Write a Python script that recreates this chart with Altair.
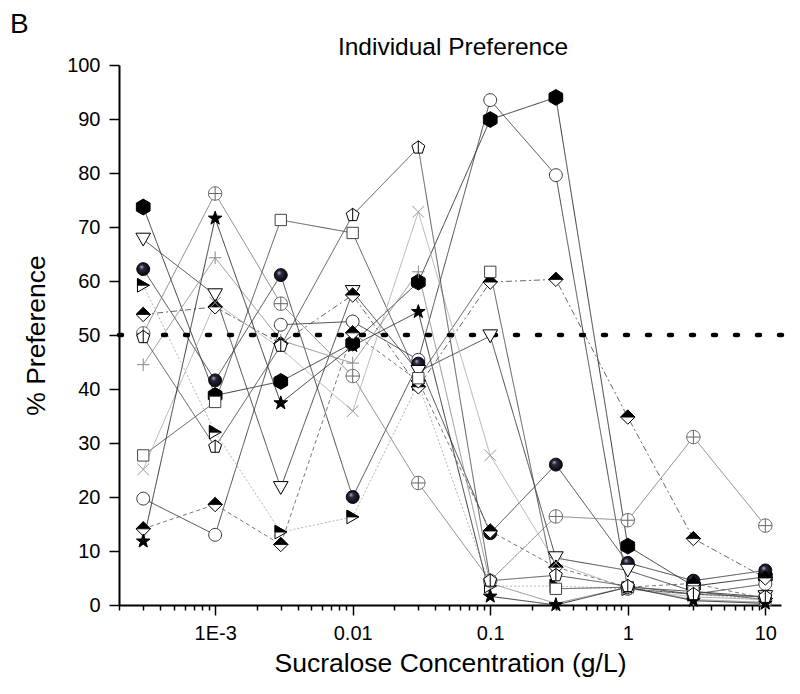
import altair as alt
import pandas as pd

# ---- data ----
conc = [0.0003, 0.001, 0.003, 0.01, 0.03, 0.1, 0.3, 1, 3, 10]

hexagon   = [73.7, 38.8, 41.4, 48.5, 59.8, 89.9, 94.0, 10.9, 3.5, 5.2]
circle    = [19.7, 13.0, 51.9, 52.5, 45.4, 93.5, 79.6, 3.0, 2.0, 3.9]
sphere    = [62.2, 41.6, 61.1, 20.0, 44.7, 13.3, 26.0, 7.8, 4.5, 6.4]
downtri   = [67.7, 57.4, 21.7, 58.0, 43.2, 49.8, 8.7, 6.4, 2.5, 1.5]
righttri  = [59.2, 32.0, 13.5, 16.3, 41.0, 3.5, 3.5, 3.0, 2.0, 1.0]
diamond_a = [53.8, 55.2, 48.4, 57.4, 40.4, 59.8, 60.3, 34.8, 12.3, 5.0]
diamond_b = [14.1, 18.6, 11.2, 50.4, 41.5, 13.7, 7.0, 3.3, 4.0, 1.2]
cplus     = [50.3, 76.2, 55.8, 42.4, 22.6, 4.5, 16.4, 15.7, 31.1, 14.7]
square    = [27.7, 37.6, 71.3, 68.9, 42.0, 61.7, 3.0, 3.3, 2.5, 1.0]
xcross    = [25.1, 56.0, 47.5, 35.9, 72.8, 27.7, 7.8, 3.0, 1.5, 1.0]
plus      = [44.5, 64.3, 49.0, 44.8, 61.7, 4.0, 0.3, 3.3, 1.0, 0.5]
star      = [11.8, 71.6, 37.4, 48.0, 54.3, 1.6, 0.0, 3.3, 0.8, 0.3]
pentagon  = [49.6, 29.3, 48.0, 72.2, 84.7, 4.5, 5.5, 3.5, 2.0, 1.5]

series_values = {
    "hexagon": hexagon, "circle": circle, "sphere": sphere, "downtri": downtri,
    "righttri": righttri, "diamond_a": diamond_a, "diamond_b": diamond_b,
    "cplus": cplus, "square": square, "xcross": xcross, "plus": plus,
    "star": star, "pentagon": pentagon,
}

x_major = [0.001, 0.01, 0.1, 1, 10]
x_major_labels = ["1E-3", "0.01", "0.1", "1", "10"]

# ---- styles ----
HEX = "M0,-1L0.866,-0.5L0.866,0.5L0,1L-0.866,0.5L-0.866,-0.5Z"
CIRC = "M-1,0A1,1 0 1,0 1,0A1,1 0 1,0 -1,0Z"
DTRI = "M-1,-0.85L1,-0.85L0,0.9Z"
RTRI = "M-0.85,-1L0.9,0L-0.85,1Z"
RTRI_TOP = "M-0.85,-1L0.9,0L-0.85,0Z"
DIAM = "M0,-1L1,0L0,1L-1,0Z"
DIAM_TOP = "M0,-1L1,0L-1,0Z"
CPLUS = CIRC + "M-1,0L1,0M0,-1L0,1"
SQ = "M-0.8,-0.8L0.8,-0.8L0.8,0.8L-0.8,0.8Z"
XS = "M-0.8,-0.8L0.8,0.8M-0.8,0.8L0.8,-0.8"
PLUS = "M-1,0L1,0M0,-1L0,1"
STAR = ("M0,-1L0.235,-0.324L0.951,-0.309L0.380,0.124L0.588,0.809L0,0.4"
        "L-0.588,0.809L-0.380,0.124L-0.951,-0.309L-0.235,-0.324Z")
PENT = "M0,-1L0.951,-0.309L0.588,0.809L-0.588,0.809L-0.951,-0.309Z M0,-1L0,0.809"

SPHERE_FILL = {
    "gradient": "radial", "x1": 0.35, "y1": 0.3, "r1": 0.0,
    "x2": 0.5, "y2": 0.5, "r2": 0.6,
    "stops": [{"offset": 0, "color": "#c0c0dc"},
              {"offset": 0.3, "color": "#2a2a40"},
              {"offset": 1, "color": "#000000"}],
}

# name: (shape, size, fill, stroke, overlay shape, line colour, line dash)
style = {
    "hexagon":   (HEX, 250, "#000000", "#000000", None, "#222222", [1, 0]),
    "circle":    (CIRC, 165, "#ffffff", "#333333", None, "#333333", [1, 0]),
    "sphere":    (CIRC, 165, SPHERE_FILL, "#000000", None, "#333333", [1, 0]),
    "downtri":   (DTRI, 215, "#ffffff", "#000000", None, "#333333", [1, 0]),
    "righttri":  (RTRI, 185, "#ffffff", "#000000", RTRI_TOP, "#aaaaaa", [2, 2]),
    "diamond_a": (DIAM, 205, "#ffffff", "#000000", DIAM_TOP, "#555555", [6, 3, 2, 3]),
    "diamond_b": (DIAM, 205, "#ffffff", "#000000", DIAM_TOP, "#666666", [4, 3]),
    "cplus":     (CPLUS, 180, "#ffffff", "#666666", None, "#777777", [1, 0]),
    "square":    (SQ, 200, "#ffffff", "#444444", None, "#444444", [1, 0]),
    "xcross":    (XS, 215, "#ffffff", "#999999", None, "#aaaaaa", [1, 0]),
    "plus":      (PLUS, 160, "#ffffff", "#888888", None, "#888888", [1, 0]),
    "star":      (STAR, 205, "#000000", "#000000", None, "#222222", [1, 0]),
    "pentagon":  (PENT, 185, "#ffffff", "#000000", None, "#444444", [1, 0]),
}

rows = []
for name, vals in series_values.items():
    for c, v in zip(conc, vals):
        rows.append({"series": name, "conc": c, "pref": v})
df = pd.DataFrame(rows)

names = list(series_values.keys())

# tick positions
x_ticks = []
for e in range(-4, 2):
    for k in range(1, 10):
        t = round(k * 10 ** e, 10)
        if 0.0002 <= t <= 13:
            x_ticks.append(t)

major_list = "[" + ",".join(str(v) for v in x_major) + "]"
label_expr = "".join(
    f"datum.value == {v} ? '{l}' : " for v, l in zip(x_major, x_major_labels)
) + "''"

x_enc = alt.X(
    "conc:Q",
    scale=alt.Scale(type="log", domain=[0.0002, 13], nice=False),
    axis=alt.Axis(
        title="Sucralose Concentration (g/L)",
        values=x_ticks,
        labelExpr=label_expr,
        tickSize={"condition": {"test": f"indexof({major_list}, datum.value) >= 0", "value": 10}, "value": 5},
        labelPadding=8,
        titlePadding=7,
        labelFlush=False,
        labelOverlap=False,
        grid=False,
    ),
)
y_enc = alt.Y(
    "pref:Q",
    scale=alt.Scale(domain=[0, 100], nice=False, zero=True),
    axis=alt.Axis(
        title="% Preference",
        values=list(range(0, 101, 5)),
        labelExpr="datum.value % 10 == 0 ? datum.label : ''",
        tickSize={"condition": {"test": "datum.value % 10 == 0", "value": 10}, "value": 5},
        labelPadding=9,
        titlePadding=16,
        grid=False,
    ),
)

base = alt.Chart(df)

lines = base.mark_line(strokeWidth=0.9).encode(
    x=x_enc,
    y=y_enc,
    detail="series:N",
    stroke=alt.Stroke("series:N", scale=alt.Scale(domain=names, range=[style[n][5] for n in names]), legend=None),
    strokeDash=alt.StrokeDash("series:N", scale=alt.Scale(domain=names, range=[style[n][6] for n in names]), legend=None),
)

ref = alt.Chart(pd.DataFrame({"y": [50]})).mark_rule(
    color="black", strokeWidth=4.5, strokeDash=[3, 19], strokeCap="round"
).encode(y="y:Q", x=alt.value(0), x2=alt.value(668))

layers = [lines, ref]
for n in names:
    shp, size, fill, stroke, overlay, _, _ = style[n]
    sub = base.transform_filter(alt.datum.series == n)
    layers.append(
        sub.mark_point(shape=shp, size=size, filled=True, fill=fill, stroke=stroke,
                       strokeWidth=1.0, opacity=1, fillOpacity=1).encode(x="conc:Q", y="pref:Q")
    )
    if overlay:
        layers.append(
            sub.mark_point(shape=overlay, size=size, filled=True, fill="#000000", stroke="#000000",
                           strokeWidth=0.8, opacity=1).encode(x="conc:Q", y="pref:Q")
        )

texts = pd.DataFrame({"t": ["B"]})
panel = alt.Chart(texts).mark_text(align="left", baseline="alphabetic", fontSize=28,
                                   font="Liberation Sans", color="black").encode(
    x=alt.value(-109), y=alt.value(-32), text="t:N")
title = alt.Chart(pd.DataFrame({"t": ["Individual Preference"]})).mark_text(
    align="center", baseline="alphabetic", fontSize=24.5, font="Liberation Sans", color="black"
).encode(x=alt.value(334), y=alt.value(-10), text="t:N")
layers += [panel, title]

chart = alt.layer(*layers).properties(
    width=662, height=540,
    autosize="none",
    padding={"left": 111, "top": 57, "right": 11, "bottom": 81},
).configure_view(stroke=None).configure_axis(
    domainColor="black", domainWidth=2, tickColor="black", tickWidth=1.5,
    labelFont="Liberation Sans", titleFont="Liberation Sans",
    labelFontSize=20, titleFontSize=26.5, labelColor="black", titleColor="black",
    titleFontWeight="normal",
)

chart.save("out.html", embed_options={"renderer": "svg", "actions": False})
